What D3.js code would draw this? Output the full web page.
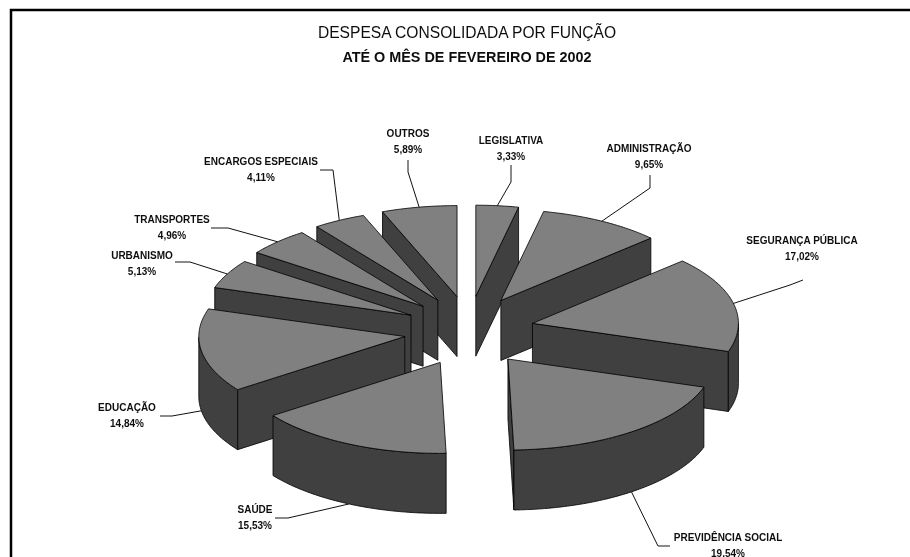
<!DOCTYPE html>
<html>
<head>
<meta charset="utf-8">
<script src="https://cdnjs.cloudflare.com/ajax/libs/d3/7.8.5/d3.min.js"></script>
<style>
	html,body{margin:0;padding:0;background:#fff;}
	svg{display:block;}
	text{font-family:"Liberation Sans",Arial,sans-serif;fill:#111;text-anchor:middle;}
	.lbl{font-size:10px;font-weight:bold;}
</style>
</head>
<body>
<div id="chart"></div>
<script>
var categories = ['LEGISLATIVA','ADMINISTRAÇÃO','SEGURANÇA PÚBLICA','PREVIDÊNCIA SOCIAL','SAÚDE','EDUCAÇÃO','URBANISMO','TRANSPORTES','ENCARGOS ESPECIAIS','OUTROS'];
var values = [3.33,9.65,17.02,19.54,15.53,14.84,5.13,4.96,4.11,5.89];
var valueLabels = ['3,33%','9,65%','17,02%','19,54%','15,53%','14,84%','5,13%','4,96%','4,11%','5,89%'];
var titleLines = ['DESPESA CONSOLIDADA POR FUNÇÃO','ATÉ O MÊS DE FEVEREIRO DE 2002'];

// label centre and the leader's first two points, same order as categories
var labelPos = [[511,140],[649,148],[802,240],[728,537],[255,509],[127,407],[142,255],[172,219],[261,161],[408,133]];
var leaderStart = [[[511,165],[511,182]],[[650,175],[650,188]],[[803,280],[790,285]],[[670,546],[658,546]],[[275,518],[288,518]],[[160,416],[172,416]],[[175,262],[190,262]],[[211,228],[228,228]],[[320,170],[333,170]],[[408,160],[408,172]]];

var width = 910, height = 557;
var cx = 469, cy = 331, rx = 206, ry = 91, depth = 60;
var explodeX = 65, explodeY = 35;

var svg = d3.select('#chart').append('svg').attr('width',width).attr('height',height);

var defs = svg.append('defs');
defs.append('filter').attr('id','soft').append('feGaussianBlur').attr('stdDeviation',0.45);

// frame has only a left and a top side
svg.append('path').attr('d','M11,557V10H910').attr('fill','none').attr('stroke','#000').attr('stroke-width',2.5);

var root = svg.append('g').attr('filter','url(#soft)');

root.selectAll('text.ttl').data(titleLines).enter().append('text')
	.attr('class','ttl').attr('x',467).attr('y',function(d,i){return 38+i*24;})
	.attr('font-size',function(d,i){return i==1?14.4:15.6;})
	.attr('font-weight',function(d,i){return i==1?'bold':'normal';})
	.text(function(d){return d;});

var pie = d3.pie().sort(null).value(function(d){return d;}).startAngle(0).endAngle(2*Math.PI);
var arcs = pie(values).map(function(a,i){
	var mid = (a.startAngle+a.endAngle)/2;
	a.i = i;
	a.mid = mid;
	a.ax = cx+explodeX*Math.sin(mid);
	a.ay = cy-explodeY*Math.cos(mid);
	return a;
});

function rim(a,t){
	return [a.ax+rx*Math.sin(t), a.ay-ry*Math.cos(t)];
}

function rimPoints(a){
	var n = Math.ceil((a.endAngle-a.startAngle)*60), pts = [];
	for(var k=0;k<=n;k++){
		pts.push(rim(a,a.startAngle+(a.endAngle-a.startAngle)*k/n));
	}
	return pts;
}

var line = d3.line();
function down(p){return [p[0],p[1]+depth];}

// back slices first
var order = arcs.slice().sort(function(p,q){return p.ay-q.ay;});

var slices = root.selectAll('g.slice').data(order).enter().append('g').attr('class','slice');

function face(sel,pts,fill){
	sel.append('path').attr('d',line(pts)+'Z').attr('fill',fill)
		.attr('stroke','#000').attr('stroke-width',0.8).attr('stroke-linejoin','round');
}

slices.each(function(a){
	var g = d3.select(this), pts = rimPoints(a), apex = [a.ax,a.ay];
	var first = pts[0], last = pts[pts.length-1];
	// only the radial wall that faces the viewer
	if(Math.sin(a.startAngle)<-1e-6) face(g,[apex,first,down(first),down(apex)],'#404040');
	if(Math.sin(a.endAngle)>1e-6) face(g,[apex,last,down(last),down(apex)],'#404040');
	// outer wall, only the part facing the viewer
	var front = pts.filter(function(p){return p[1]>=a.ay;});
	if(front.length>1){
		face(g,front.concat(front.slice().reverse().map(down)),'#404040');
	}
	// top
	face(g,[apex].concat(pts),'#808080');
});

var leader = d3.line();
root.selectAll('path.leader').data(arcs).enter().append('path')
	.attr('class','leader').attr('fill','none').attr('stroke','#111').attr('stroke-width',1)
	.attr('d',function(a){
		var end = rim(a,a.mid);
		if(Math.cos(a.mid)<0) end = down(end);
		return leader(leaderStart[a.i].concat([end]));
	});

var labels = root.selectAll('g.lbl').data(arcs).enter().append('g')
	.attr('transform',function(a){return 'translate('+labelPos[a.i][0]+','+labelPos[a.i][1]+')';});
labels.append('text').attr('class','lbl').attr('y',3.5).text(function(a){return categories[a.i];});
labels.append('text').attr('class','lbl').attr('y',19.5).text(function(a){return valueLabels[a.i];});
</script>
</body>
</html>
